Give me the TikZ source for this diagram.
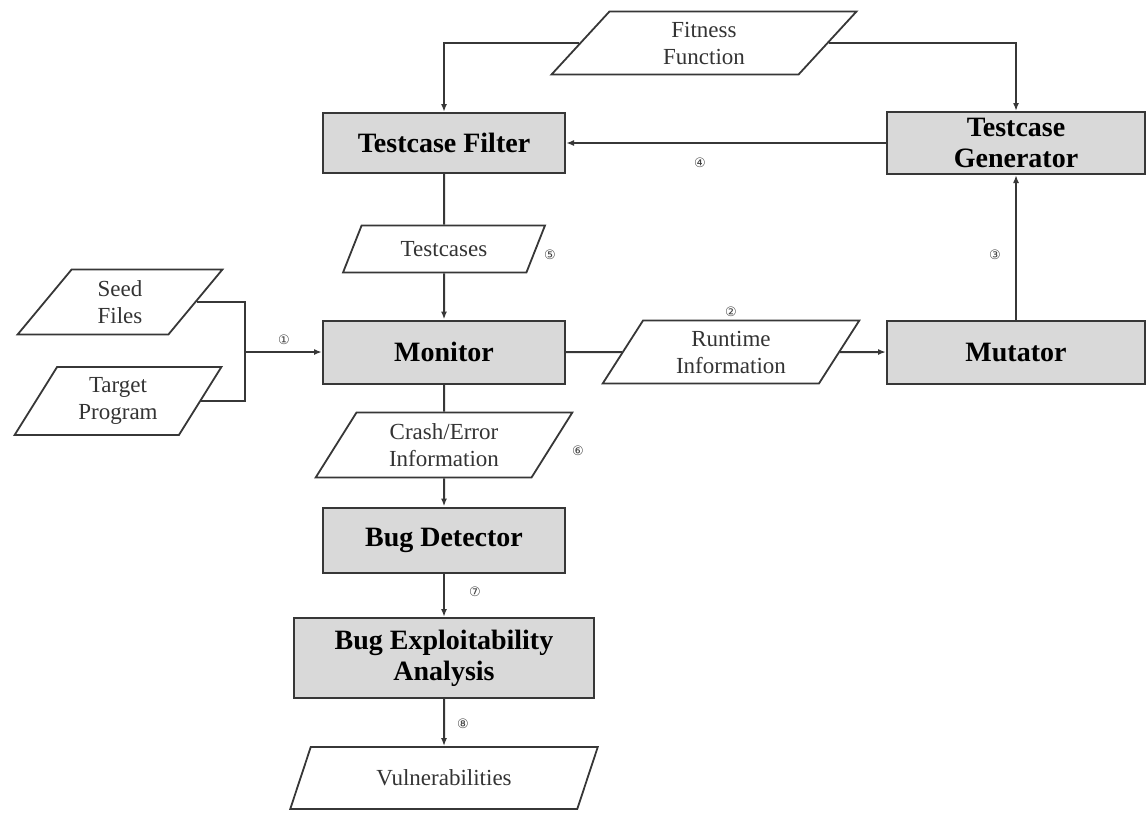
\documentclass[tikz,border=0pt]{standalone}
\usepackage{fontspec}
\setmainfont{Liberation Serif}
\newfontfamily\symfont{DejaVu Sans}
\usetikzlibrary{shapes.geometric,arrows.meta}
\definecolor{boxfill}{RGB}{217,217,217}
\definecolor{linec}{RGB}{55,55,55}
\tikzset{
  proc/.style={draw=linec, line width=2pt, fill=boxfill, rectangle, align=center,
    font=\fontsize{28}{31}\selectfont\bfseries, inner sep=2pt},
  para/.style={draw=linec, line width=1.8pt, trapezium, trapezium left angle=60,
    trapezium right angle=120, trapezium stretches=true, align=center,
    font=\fontsize{23}{27}\selectfont, text=black!80, inner sep=1pt},
  conn/.style={draw=linec, line width=2pt},
  arr/.style={conn, -{Latex[length=8pt,width=6pt]}},
  num/.style={font=\symfont\fontsize{13}{13}\selectfont, text=black!75, inner sep=0pt}
}
\begin{document}
\begin{tikzpicture}[x=1pt,y=-1pt]
\useasboundingbox (0,0) rectangle (1147,812);
% parallelograms
\node[para, minimum width=305pt, minimum height=63pt] (fit) at (704,43) {Fitness\\Function};
\node[para, minimum width=202pt, minimum height=47pt] (tc) at (444,249) {Testcases};
\node[para, minimum width=205pt, minimum height=65pt] (seed) at (120,302) {Seed\\Files};
\node[para, minimum width=207pt, minimum height=68pt] (target) at (118,401) {Target\\Program};
\node[para, minimum width=257pt, minimum height=63pt] (rt) at (731,352) {Runtime\\Information};
\node[para, minimum width=257pt, minimum height=65pt] (crash) at (444,445) {Crash/Error\\Information};
\node[para, minimum width=308pt, minimum height=62pt] (vul) at (444,778) {Vulnerabilities};
% process boxes
\node[proc, minimum width=242pt, minimum height=60pt] (filter) at (444,143) {Testcase Filter};
\node[proc, minimum width=258pt, minimum height=62pt] (gen) at (1016,143) {Testcase\\Generator};
\node[proc, minimum width=242pt, minimum height=63pt] (mon) at (444,352) {Monitor};
\node[proc, minimum width=258pt, minimum height=63pt] (mut) at (1016,352) {Mutator};
\node[proc, minimum width=242pt, minimum height=65pt] (bd) at (444,540) {Bug Detector};
\node[proc, minimum width=300pt, minimum height=80pt] (bea) at (444,658) {Bug Exploitability\\Analysis};
% junction
\coordinate (j) at (245,352);
% connectors
\draw[arr] (fit.west) -| (filter.north);
\draw[arr] (fit.east) -| (gen.north);
\draw[arr] (gen.west) -- (filter.east);
\draw[conn] (filter.south) -- (tc.north);
\draw[arr] (tc.south) -- (mon.north);
\draw[conn] (seed.east) -| (j);
\draw[conn] (target.east) -| (j);
\draw[arr] (j) -- (mon.west);
\draw[conn] (mon.east) -- (rt.west);
\draw[arr] (rt.east) -- (mut.west);
\draw[arr] (mut.north) -- (gen.south);
\draw[conn] (mon.south) -- (crash.north);
\draw[arr] (crash.south) -- (bd.north);
\draw[arr] (bd.south) -- (bea.north);
\draw[arr] (bea.south) -- (vul.north);
% step numbers
\node[num] (n1) at (284,340) {①};
\node[num] (n2) at (731,312) {②};
\node[num] (n3) at (995,255) {③};
\node[num] (n4) at (700,163) {④};
\node[num] (n5) at (550,255) {⑤};
\node[num] (n6) at (578,451) {⑥};
\node[num] (n7) at (475,592) {⑦};
\node[num] (n8) at (463,724) {⑧};
\end{tikzpicture}
\end{document}
